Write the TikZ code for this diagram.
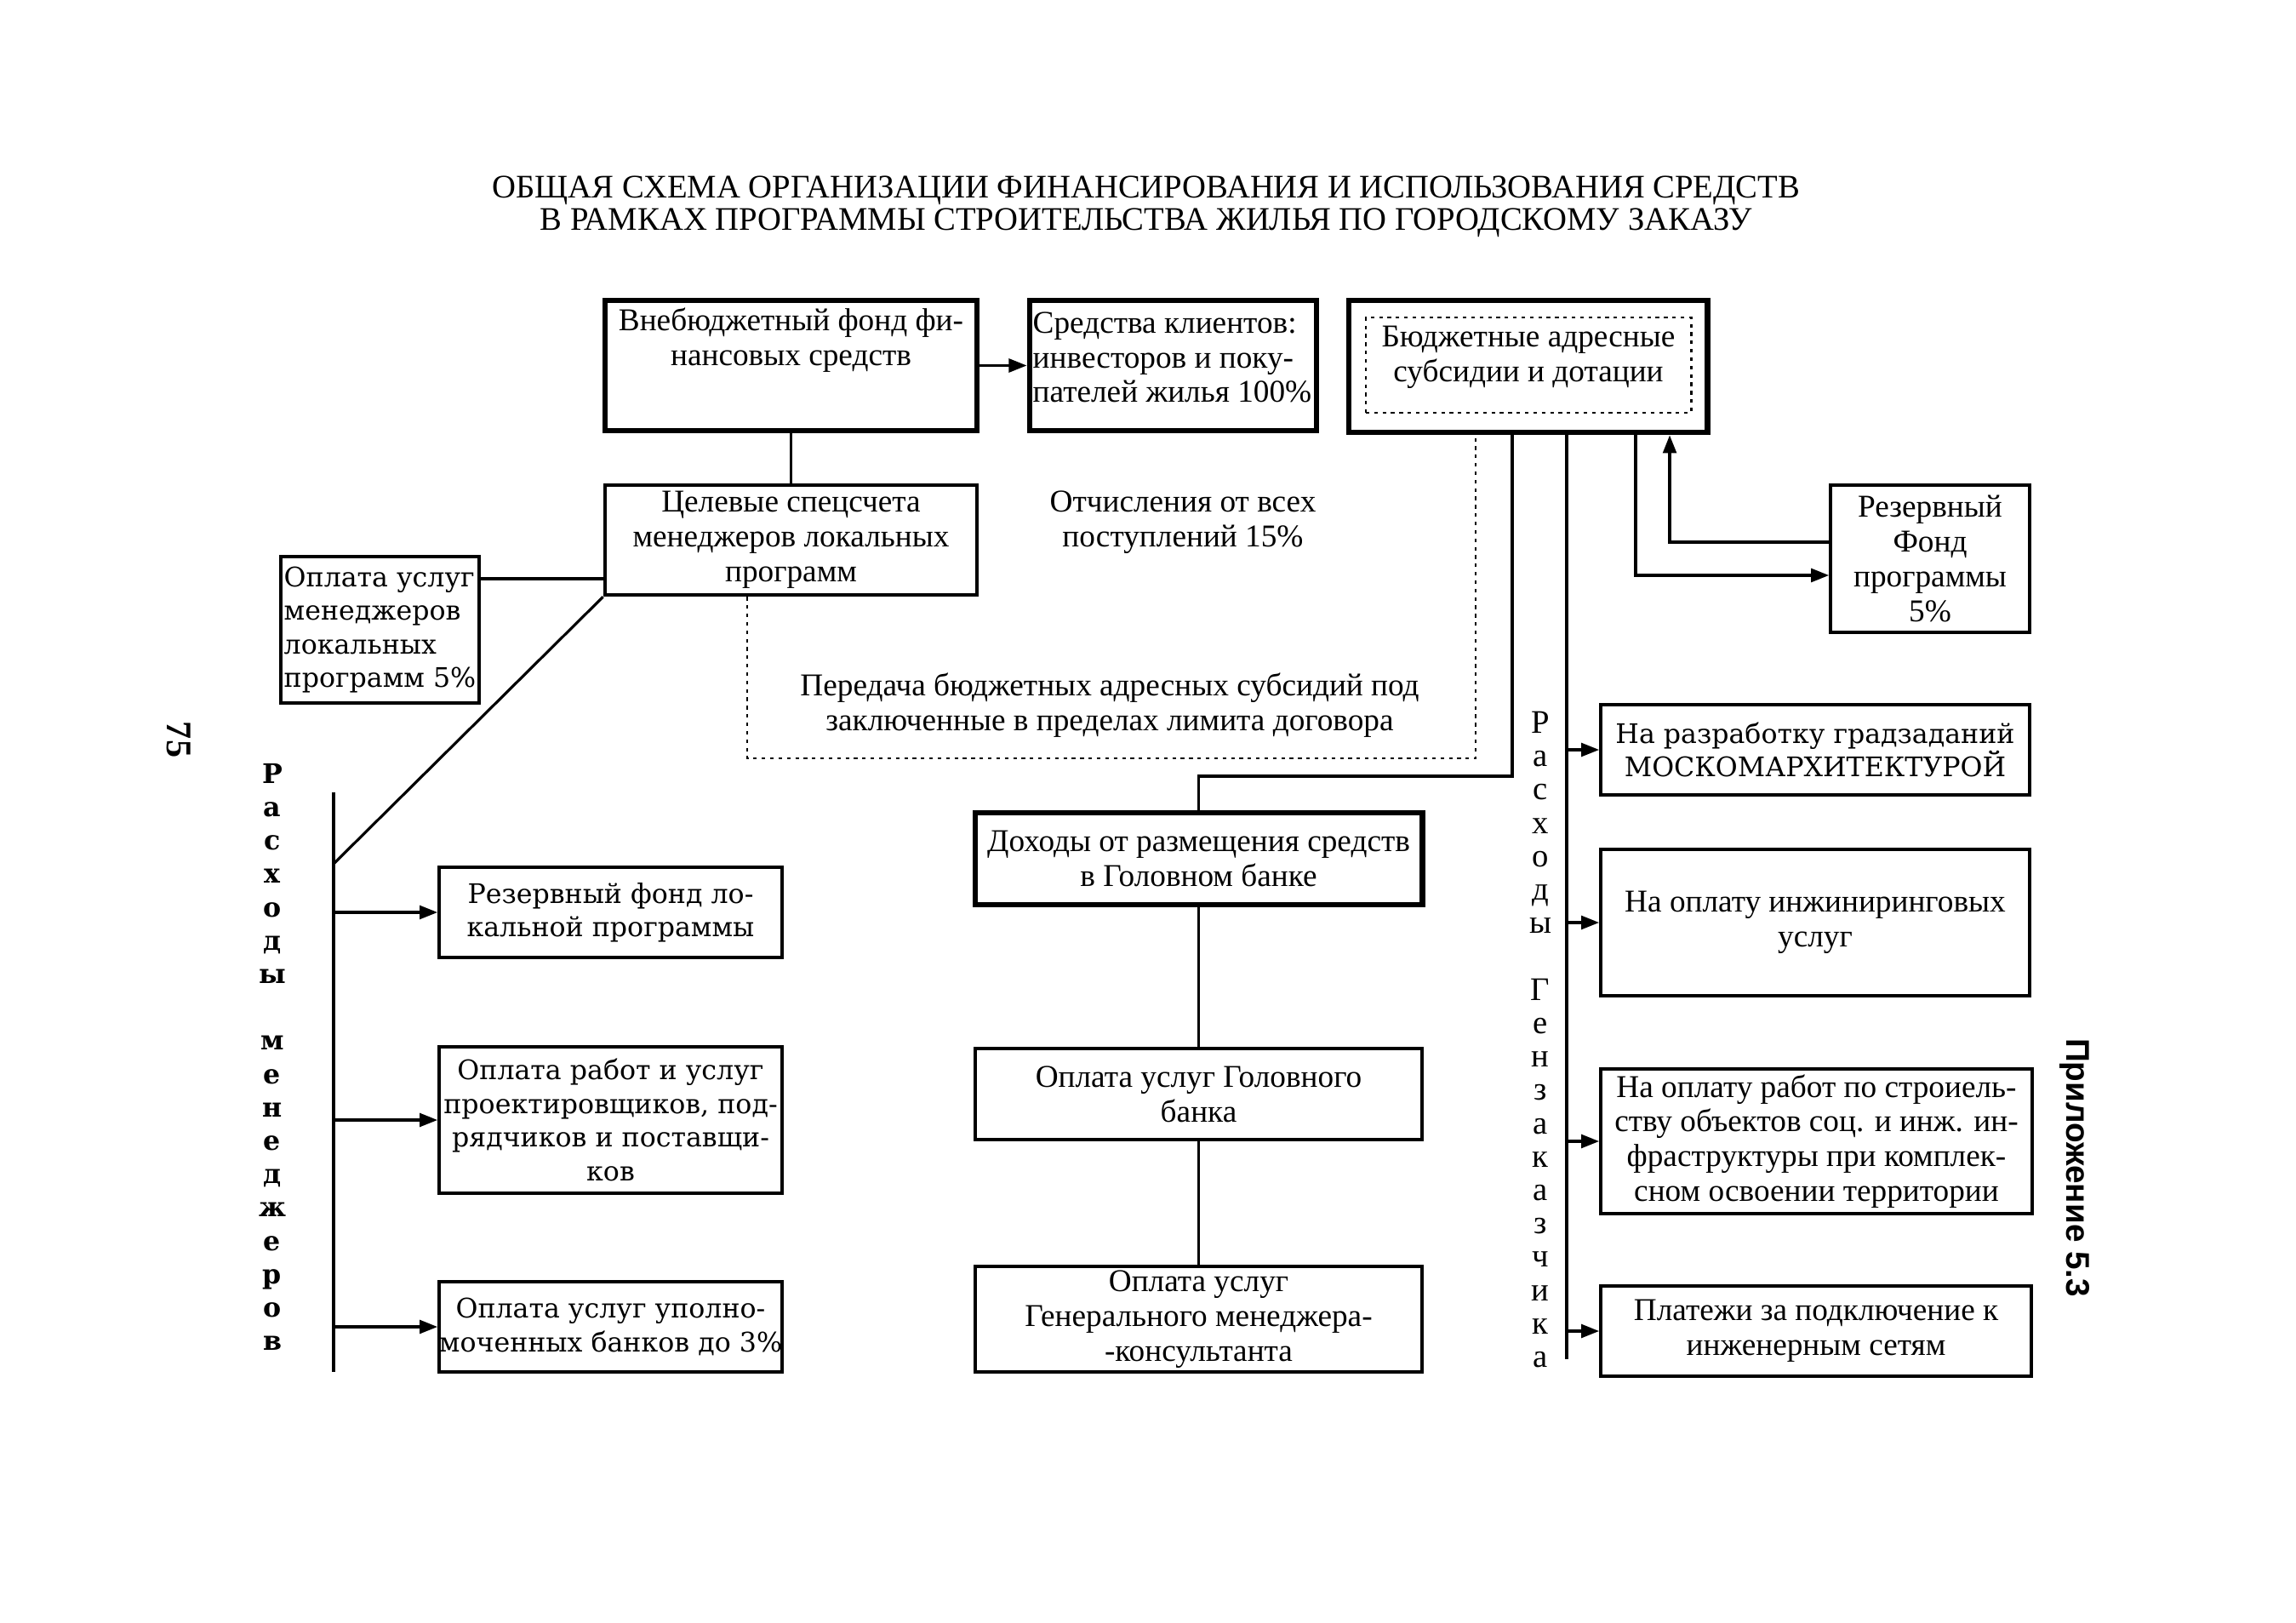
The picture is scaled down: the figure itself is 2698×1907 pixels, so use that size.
\documentclass[tikz,border=0pt]{standalone}
\usepackage{fontspec}
\setmainfont{Liberation Serif}
\newfontfamily\widefont{DejaVu Serif}
\newfontfamily\sansfnt{Liberation Sans}
\usetikzlibrary{arrows.meta}
\newcommand\boxfont{\fontsize{10.6}{11.6}\selectfont}
\newcommand\wfont{\widefont\fontsize{9}{11.2}\selectfont}
\begin{document}
\begin{tikzpicture}[x=0.01cm,y=-0.01cm,
  box/.style={draw, line width=1pt, inner sep=0pt, align=center, font=\boxfont},
  thickbox/.style={box, line width=1.9pt},
  wbox/.style={box, font=\wfont},
  txt/.style={inner sep=0pt, align=center, font=\boxfont},
  conn/.style={line width=0.9pt},
  arr/.style={conn, -{Triangle[length=6pt,width=4.5pt]}},
  dots/.style={line width=0.8pt, dash pattern=on 1.2pt off 1.6pt}]
\fill[white] (0,0) rectangle (2698,1907);
\useasboundingbox (0,0) rectangle (2698,1907);

% title
\node[txt, font=\fontsize{11}{10.8}\selectfont] (title) at (1347,243)
  {ОБЩАЯ СХЕМА ОРГАНИЗАЦИИ ФИНАНСИРОВАНИЯ И ИСПОЛЬЗОВАНИЯ СРЕДСТВ\\
   В РАМКАХ ПРОГРАММЫ СТРОИТЕЛЬСТВА ЖИЛЬЯ ПО ГОРОДСКОМУ ЗАКАЗУ};

% top row
\node[thickbox, minimum width=4.37cm, minimum height=1.53cm] (A) at (929.5,429.5) {};
\node[txt] (At) at (929.5,400) {Внебюджетный фонд фи-\\нансовых средств};
\node[thickbox, minimum width=3.37cm, minimum height=1.53cm] (B) at (1378.5,429.5) {};
\node[txt, align=left, anchor=west] (Bt) at (1213,420) {Средства клиентов:\\инвесторов и поку-\\пателей жилья 100\%};
\node[thickbox, minimum width=4.21cm, minimum height=1.55cm] (C) at (1795.5,430.5) {};
\node[box, dots, minimum width=3.82cm, minimum height=1.12cm] (Ci) at (1796,429) {};
\node[txt] (Ct) at (1796,420) {Бюджетные адресные\\субсидии и дотации};

% second row
\node[box, line width=1.3pt, minimum width=4.37cm, minimum height=1.29cm] (D) at (929.5,634.5)
  {Целевые спецсчета\\менеджеров локальных\\программ};
\node[wbox, align=left, minimum width=2.33cm, minimum height=1.72cm] (E) at (446.5,740)
  {Оплата услуг\\менеджеров\\локальных\\программ 5\%};
\node[txt] (otch) at (1390,614) {Отчисления от всех\\поступлений 15\%};
\node[txt] (pered) at (1304,829) {Передача бюджетных адресных субсидий под\\заключенные в пределах лимита договора};
\node[box, minimum width=2.34cm, minimum height=1.73cm] (P) at (2268,656.5)
  {Резервный\\Фонд\\программы\\5\%};

% left column
\node[wbox, minimum width=4.03cm, minimum height=1.06cm] (F) at (717.5,1072)
  {Резервный фонд ло-\\кальной программы};
\node[wbox, minimum width=4.03cm, minimum height=1.72cm] (G) at (717.5,1316)
  {Оплата работ и услуг\\проектировщиков, под-\\рядчиков и поставщи-\\ков};
\node[wbox, minimum width=4.03cm, minimum height=1.06cm] (H) at (717.5,1559)
  {Оплата услуг уполно-\\моченных банков до 3\%};
\node[inner sep=0pt, align=center, font=\widefont\bfseries\fontsize{9}{11.15}\selectfont] (lab1) at (320,1242)
  {Р\\а\\с\\х\\о\\д\\ы\\\mbox{}\\м\\е\\н\\е\\д\\ж\\е\\р\\о\\в};

% middle column
\node[thickbox, minimum width=5.25cm, minimum height=1.08cm] (I) at (1408.5,1009)
  {Доходы от размещения средств\\в Головном банке};
\node[box, minimum width=5.25cm, minimum height=1.07cm] (J) at (1408.5,1285.5)
  {Оплата услуг Головного\\банка};
\node[box, minimum width=5.25cm, minimum height=1.24cm] (K) at (1408.5,1550)
  {Оплата услуг\\Генерального менеджера-\\-консультанта};

% right column
\node[inner sep=0pt, align=center, font=\fontsize{11}{11.15}\selectfont] (lab2) at (1810,1221.5)
  {Р\\а\\с\\х\\о\\д\\ы\\\mbox{}\\Г\\е\\н\\з\\а\\к\\а\\з\\ч\\и\\к\\а};
\node[wbox, minimum width=5.04cm, minimum height=1.06cm] (L) at (2133,881)
  {На разработку градзаданий\\МОСКОМАРХИТЕКТУРОЙ};
\node[box, minimum width=5.04cm, minimum height=1.72cm] (M) at (2133,1084)
  {На оплату инжиниринговых\\услуг};
\node[box, minimum width=5.07cm, minimum height=1.70cm] (N) at (2134.5,1341)
  {На оплату работ по строиель-\\ству объектов соц. и инж. ин-\\фраструктуры при комплек-\\сном освоении территории};
\node[box, minimum width=5.06cm, minimum height=1.06cm] (O) at (2134,1564)
  {Платежи за подключение к\\инженерным сетям};

% side texts
\node[inner sep=0pt, rotate=-90, font=\bfseries\fontsize{12}{12}\selectfont] (pg) at (210,869) {75};
\node[inner sep=0pt, rotate=-90, font=\sansfnt\bfseries\fontsize{11}{11}\selectfont] (app) at (2438,1372) {Приложение 5.3};

% coordinates
\coordinate (yE) at (0,680);
\coordinate (dd1) at (878,891);
\coordinate (dd2) at (1734,891);
\coordinate (mj) at (392,1015);
\coordinate (mt) at (392,931);
\coordinate (mb) at (392,1612);
\coordinate (ci) at (1777,912);
\coordinate (gx) at (1841,508);
\coordinate (gb) at (1841,1597);
\coordinate (p1) at (1922,676);
\coordinate (p2) at (1962,637);

% connectors
\draw[arr] (A.east) -- (B.west);
\draw[conn] (A.south) -- (D.north);
\draw[conn] (E.east |- yE) -- (D.west |- yE);
\draw[dots] (D.south -| dd1) -- (dd1) -- (dd2) -- (C.south -| dd2);
\draw[conn] (D.south west) -- (mj);
\draw[conn, line width=1.1pt] (mt) -- (mb);
\draw[arr] (F.west -| mt) -- (F.west);
\draw[arr] (G.west -| mt) -- (G.west);
\draw[arr] (H.west -| mt) -- (H.west);
\draw[conn] (C.south -| ci) -- (ci) -| (I.north);
\draw[conn] (I.south) -- (J.north);
\draw[conn] (J.south) -- (K.north);
\draw[conn, line width=1.1pt] (C.south -| gx) -- (gb);
\draw[arr] (L.west -| gx) -- (L.west);
\draw[arr] (M.west -| gx) -- (M.west);
\draw[arr] (N.west -| gx) -- (N.west);
\draw[arr] (O.west -| gx) -- (O.west);
\draw[arr] (C.south -| p1) |- (P.west |- p1);
\draw[arr] (P.west |- p2) -| (C.south -| p2);
\end{tikzpicture}
\end{document}
